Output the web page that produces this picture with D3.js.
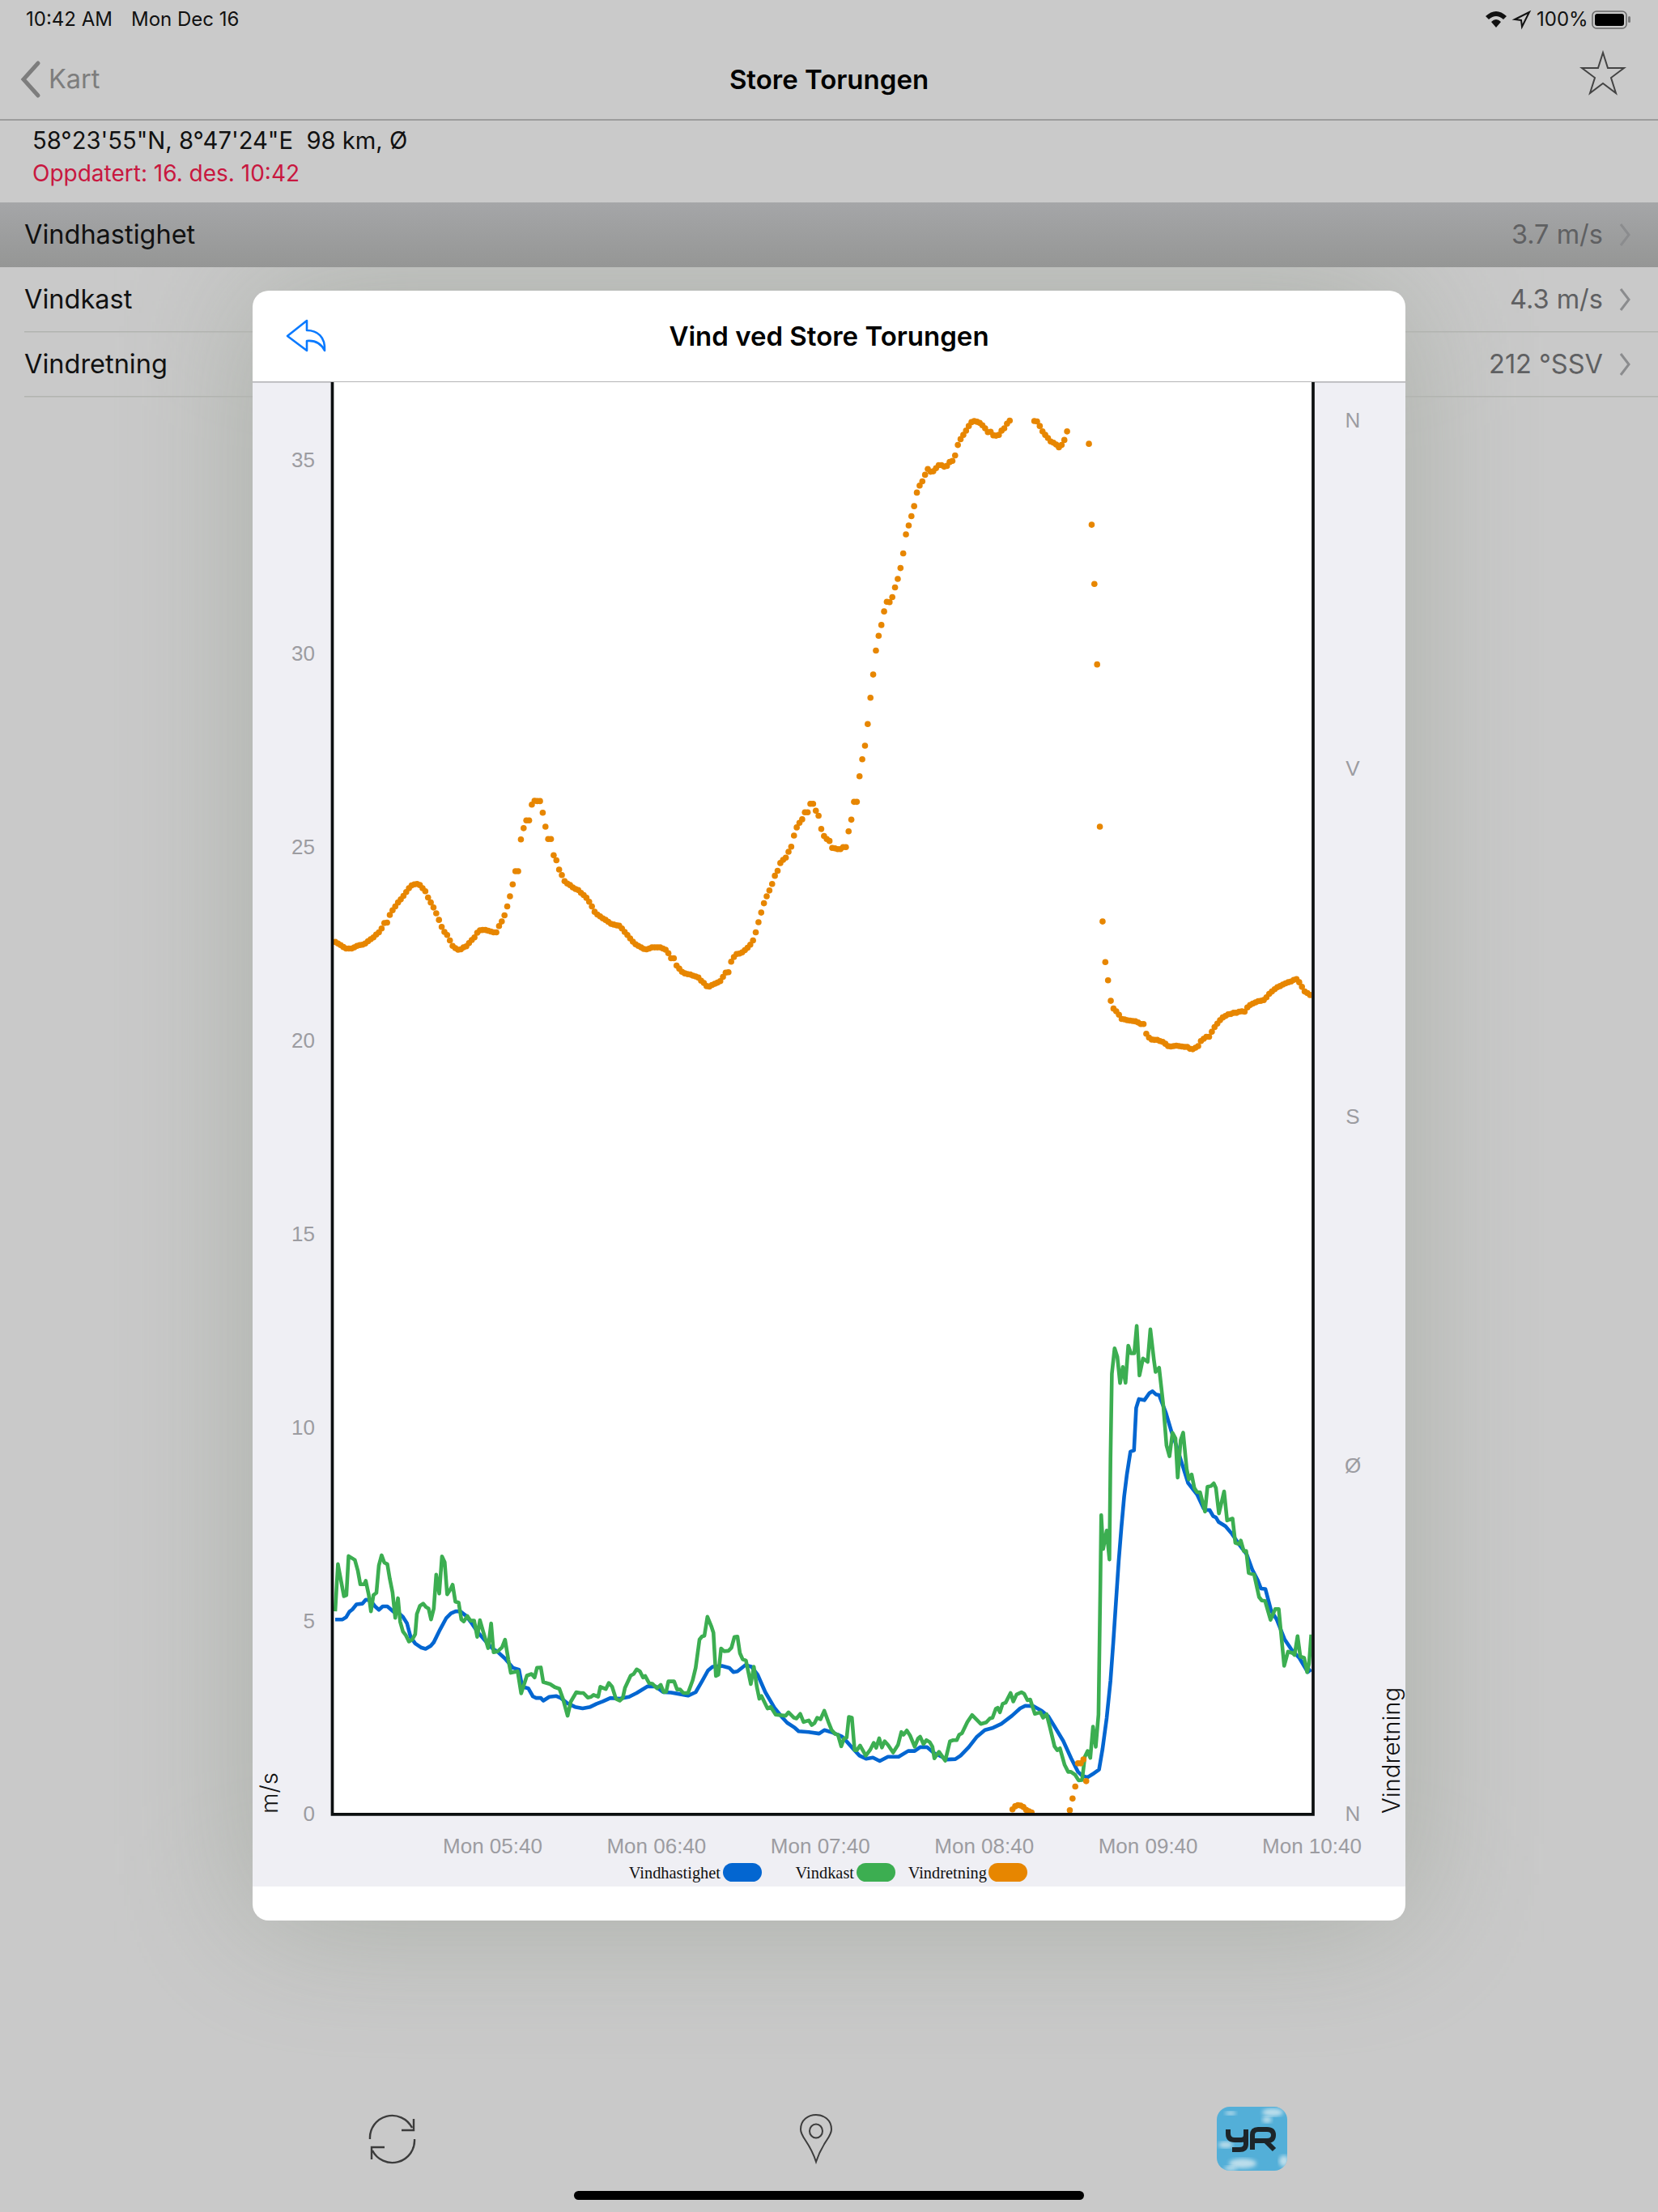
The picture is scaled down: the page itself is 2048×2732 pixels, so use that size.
<!DOCTYPE html>
<html lang="no">
<head>
<meta charset="utf-8">
<title>Vind ved Store Torungen</title>
<script src="https://d3js.org/d3.v7.min.js"></script>
<style>
  html, body { margin: 0; padding: 0; background: #c9c9c9; }
  svg { display: block; font-family: Inter, "Noto Sans", sans-serif; }
  .tick text { fill: #9c9ca1; font-size: 26px; font-weight: 300; }
</style>
</head>
<body>
<svg id="screen" width="2048" height="2732" viewBox="0 0 2048 2732"></svg>
<script>
// Wind observations, one direction reading per minute from the first sample onward.
const firstSample = new Date(2019, 11, 16, 4, 42, 30);

const directionDegrees = [
  225.2,224.8,224.4,223.9,223.5,223.5,223.5,223.8,224.2,224.4,
  224.5,224.8,225.4,225.9,226.4,227.1,227.7,228.7,230.1,230.2,
  232.2,233.4,234.4,235.4,236.2,237.1,238.1,239.1,239.8,240.1,
  240.2,239.9,239.1,238.3,236.7,235.4,234.1,232.6,230.9,229.1,
  227.8,227.0,225.6,224.2,223.6,223.2,223.3,223.8,224.1,224.9,
  225.7,226.4,227.6,228.2,228.3,228.3,228.1,227.9,227.7,227.7,
  229.3,230.5,232.1,234.4,237.0,240.1,243.5,243.5,251.7,254.6,
  256.6,256.6,260.7,261.7,261.6,261.6,258.6,255.0,251.8,251.8,
  247.6,246.3,243.9,242.5,240.9,240.3,239.9,239.3,238.9,238.6,
  237.9,237.3,236.6,235.6,234.4,233.0,232.3,231.8,231.3,230.9,
  230.4,229.9,229.7,229.5,229.4,228.7,227.8,227.0,226.1,225.3,
  224.6,224.2,223.8,223.4,223.3,223.5,223.8,223.8,223.8,223.8,
  223.5,223.2,222.3,221.0,221.0,219.1,218.3,217.5,217.1,216.9,
  216.8,216.5,216.3,216.0,215.2,214.6,213.8,213.7,214.1,214.4,
  214.7,215.1,216.2,217.3,217.4,220.1,221.3,222.1,222.2,222.5,
  223.1,223.7,224.5,225.6,227.7,230.3,232.8,235.2,237.0,238.5,
  240.2,242.3,243.6,245.6,246.4,247.0,248.5,249.8,252.7,254.8,
  256.0,256.9,258.7,258.7,260.9,260.9,259.1,257.8,254.4,252.6,
  251.8,251.3,249.5,249.4,249.2,249.2,249.7,249.7,253.8,256.8,
  261.4,261.4,268.0,272.4,275.9,281.5,288.3,294.3,300.5,304.3,
  307.1,310.6,313.1,313.0,314.3,316.8,319.0,321.8,325.6,330.5,
  332.8,335.2,337.8,341.3,343.1,344.2,345.9,347.4,346.7,346.8,
  347.6,348.4,348.4,348.0,348.2,349.2,349.5,350.9,353.6,355.1,
  356.2,357.3,358.5,359.5,359.8,359.6,359.3,358.7,357.9,356.9,
  357.0,356.1,356.0,356.2,357.3,357.9,359.1,359.9,1.1,1.9,
  2.2,2.1,1.7,1.0,0.6,0.3,359.8,359.7,358.5,357.1,
  356.2,355.4,354.5,354.2,353.7,353.0,353.6,354.9,357.1,0.9,
  3.9,7.0,13.0,13.0,14.0,8.4,353.9,333.0,317.7,296.9,
  255.0,230.5,220.0,215.3,210.0,208.0,207.3,206.4,205.3,205.2,
  205.0,204.9,204.8,204.7,204.4,204.0,204.0,201.5,200.5,200.0,
  199.9,199.9,199.6,199.4,198.9,198.3,198.2,198.3,198.4,198.3,
  198.2,198.1,198.1,197.6,197.5,197.9,198.3,199.6,200.2,200.7,
  200.7,202.0,203.2,204.1,205.0,205.7,206.1,206.5,206.6,206.9,
  206.9,207.2,207.3,207.2,208.3,208.9,209.3,209.6,209.9,210.0,
  210.2,210.9,211.8,212.4,213.0,213.5,213.8,214.2,214.5,214.8,
  215.0,215.4,215.6,214.8,213.6,212.4,212.0,211.5
];

const speedMinutes = [
  0,2.7,4,5.2,6.3,7.8,10,11.2,12.9,14.6,16,17.4,19.1,21.4,23.1,24.8,26.3,27.6,29.3,31.6,
  33.1,35,36.1,38.4,40.7,42.4,44.1,45.8,48,49.7,52,55.4,57.7,59.4,62.2,65.1,67.3,68.5,70.7,72.4,
  73.6,75.3,76.2,78.4,81,82.6,84.9,87.8,90.6,93.4,95.7,98,100.8,104.2,107.6,110.4,112.7,114.4,117.3,120.1,
  123,126.3,129.2,132,134.3,136.5,138.2,141.6,144.3,145.8,147.3,150.2,152.4,154.7,157.5,161,163.8,165.5,168.3,169.7,
  173.4,177.2,179.1,181.6,184.1,185.6,187.5,190,192,194.4,196.9,199.4,202.4,206.3,209.8,212.2,214.2,216.7,219.2,222.1,
  224.1,227.1,229,232,235,237.9,240.9,243.9,247.8,250.8,252.7,255.7,258.7,261.2,263.6,266.6,269.5,272,273.5,275.5,
  277.3,279.7,281,282.5,283.9,284.9,285.9,286.9,287.9,288.9,289.9,291.2,292.5,293.3,294.3,296.3,298.1,299.3,300.5,301.7,
  304.2,306.2,308,310.1,312.3,315.6,318,319,320.2,321.5,322.5,323.5,326,328.4,330.9,333.8,335.8,337.8,339,340.6,
  342.7,344.7,347.7,350.2,353.1,356.1,357.4
];
const speedValues = [
  5.02,5.02,5.08,5.22,5.28,5.41,5.43,5.53,5.51,5.36,5.27,5.36,5.36,5.22,5.20,5.09,4.92,4.57,4.40,4.29,
  4.26,4.34,4.43,4.76,5.06,5.18,5.23,5.23,5.11,4.95,4.71,4.43,4.26,4.19,4.01,3.77,3.72,3.28,3.24,3.03,
  2.99,2.99,2.92,3.02,3.04,2.99,2.86,2.76,2.72,2.76,2.84,2.90,2.99,2.97,3.02,3.12,3.22,3.29,3.29,3.14,
  3.13,3.09,3.05,3.14,3.42,3.70,3.80,3.82,3.77,3.66,3.68,3.84,3.80,3.59,3.14,2.72,2.48,2.35,2.22,2.13,
  2.11,2.07,2.16,2.11,2.04,1.99,1.85,1.65,1.50,1.42,1.45,1.36,1.47,1.47,1.62,1.62,1.72,1.72,1.57,1.47,
  1.40,1.41,1.50,1.72,1.99,2.16,2.22,2.32,2.53,2.72,2.79,2.78,2.66,2.51,2.23,1.88,1.43,1.08,0.98,0.94,
  1.02,1.14,1.68,2.47,3.44,4.41,5.47,6.53,7.41,8.20,8.77,9.36,9.39,10.49,10.72,10.69,10.87,10.92,10.84,10.82,
  10.36,9.88,9.52,9.04,8.55,8.25,7.89,7.85,7.85,7.69,7.66,7.54,7.43,7.23,6.97,6.70,6.31,6.04,5.82,5.81,
  5.25,5.03,4.50,4.24,4.02,3.66,3.73
];

const gustMinutes = [
  0,1,3.2,4.1,4.9,7.2,8.3,9.2,10.6,11.2,12.3,13.1,14,15.1,16,17,18,19.1,20,21,
  22,23,23.8,24.8,25.8,27,28.2,29.3,29.9,31,32.2,33.3,34.2,35.1,36.1,37,38.1,39.1,40.1,41,
  42.1,43,44,45.2,46.2,47.1,48.4,49.5,50.9,52,53,54.3,56,57.1,58,59.4,61.1,62.2,63.4,64.3,
  66.8,68.1,70.2,71.9,73,73.9,75.3,76.2,78.7,80.4,82.1,83.4,85.1,86.3,88.3,89.8,90.9,92.5,93.7,94.6,
  96.3,97.1,99.1,100.2,101.4,102.8,104.2,105.3,106.1,108.2,109.3,110.4,111.6,112.7,113.5,115,116.1,117.8,119.2,120.3,
  121.2,122,124.1,125.2,126.3,127.5,129.2,130.9,132,133.4,134.3,135.2,136.3,137.7,138.5,139.4,140.3,141.3,142.4,144,
  145.1,146.2,147.3,148.2,149.2,150.4,152.2,153.3,154.4,155.3,156.1,158.3,159.5,161.3,164.9,166,168,168.9,170.3,171.5,
  173.4,174.5,175.5,176.5,177.7,179.1,180.6,181.8,183.1,184.1,185.3,186.3,187.3,188.1,189.2,190.2,191,192.2,194.3,195.9,
  197.2,198.1,199.2,200.2,201.2,202.4,204.3,206.1,207.3,208.1,209.3,210.5,212.2,213.4,214.2,215.4,216.5,217.7,218.7,219.4,
  221.1,222.1,223.4,225.1,226.3,227.6,228.5,229.5,231.5,233.2,236.4,238.4,239.7,240.7,241.9,242.6,243.4,244.4,245.5,247.3,
  248.3,249.5,251.3,252.3,253.5,254.5,256.2,258.2,259.2,260.5,261.6,263.4,264.4,265.4,267.1,268.4,269.4,271,272.2,273.5,
  274.5,275.5,276.5,277.5,278.5,279.5,280.2,280.5,281.2,282.5,283.5,283.9,284.4,285.4,286.4,287.4,288.4,289.4,290.4,291.4,
  292.6,293.5,294.5,295.8,297.5,298.5,299.8,300.4,301.7,303.2,304.4,305.5,306.6,307.7,308.5,309.6,310.5,311.8,312.6,313.6,
  314.6,315.6,316.7,318.5,319.4,320.7,321.7,322.5,323.6,325.5,326.6,328.6,329.6,330.9,331.6,332.7,333.6,334.5,336.5,338.3,
  339.3,340.5,342.5,344.2,345.5,347.5,348.9,350.6,351.3,352.4,353.4,354.8,355.9,356.6,357.4
];
const gustValues = [
  5.23,6.45,5.62,5.65,6.66,6.56,6.28,5.93,5.93,6.02,5.65,5.23,5.65,5.71,6.42,6.68,6.49,6.45,6.07,5.72,
  5.06,5.57,4.96,4.71,4.62,4.45,4.50,4.64,5.16,5.37,5.43,5.34,5.30,5.02,5.30,6.18,5.69,6.65,6.50,5.67,
  5.79,5.92,5.48,5.46,5.02,4.97,5.11,4.99,4.99,4.57,5.00,4.68,4.28,4.92,4.17,4.19,4.30,4.50,3.98,3.64,
  3.68,3.11,3.57,3.61,3.52,3.77,3.78,3.40,3.35,3.27,3.23,2.97,2.53,2.90,3.14,3.12,3.12,3.00,3.02,3.07,
  3.02,3.28,3.22,3.38,3.28,2.97,2.92,2.99,3.25,3.57,3.61,3.73,3.68,3.52,3.56,3.37,3.36,3.24,3.33,3.14,
  3.15,3.42,3.42,3.21,3.21,3.12,3.12,3.45,3.77,4.50,4.58,4.60,5.09,4.85,4.68,3.56,3.59,4.27,4.20,4.21,
  4.29,4.57,4.58,4.15,3.99,3.96,3.35,3.80,3.28,2.97,3.04,2.72,2.76,2.56,2.53,2.62,2.48,2.46,2.58,2.37,
  2.41,2.29,2.34,2.48,2.44,2.66,2.37,2.16,2.06,2.04,1.74,1.94,1.97,2.50,2.48,1.64,1.64,1.76,1.50,1.65,
  1.83,1.70,1.95,1.71,1.87,1.78,1.58,1.78,2.11,2.04,2.15,2.02,1.73,1.94,1.99,1.80,1.90,1.85,1.73,1.43,
  1.60,1.50,1.37,1.87,1.90,1.90,2.04,2.08,2.37,2.55,2.32,2.36,2.46,2.48,2.71,2.74,2.62,2.84,2.87,3.12,
  2.90,3.08,3.14,3.10,2.93,2.95,2.58,2.62,2.48,2.57,2.27,1.74,1.64,1.69,1.26,1.08,1.08,1.00,0.86,0.87,
  1.47,1.62,1.44,2.25,1.73,2.56,6.00,7.72,6.84,7.32,6.57,9.17,11.37,12.03,11.81,11.13,11.55,11.14,12.10,11.90,
  11.90,12.61,11.33,11.77,11.68,12.52,11.73,11.42,11.53,10.58,9.52,9.24,9.85,9.70,8.69,9.66,9.85,8.91,8.64,8.77,
  8.42,8.31,8.31,7.81,8.45,8.47,8.54,8.42,7.76,8.33,7.58,7.63,7.00,6.97,7.06,6.79,6.79,6.22,6.18,5.60,
  5.51,5.50,5.01,5.29,5.29,3.82,4.19,4.15,4.10,4.59,4.06,4.03,3.66,3.88,4.63
];

const speedTicks = [0, 5, 10, 15, 20, 25, 30, 35];
const compassTicks = [0, 90, 180, 270, 360];
const compassLabels = ["N", "Ø", "S", "V", "N"];
const timeTicks = [5, 6, 7, 8, 9, 10].map(h => new Date(2019, 11, 16, h, 40));
const legendLabels = ["Vindhastighet", "Vindkast", "Vindretning"];
const rowLabels = ["Vindhastighet", "Vindkast", "Vindretning"];
const rowValues = ["3.7 m/s", "4.3 m/s", "212 °SSV"];

const colors = { speed: "#0366d1", gust: "#3cae51", direction: "#e78600" };

const svg = d3.select("#screen");
const defs = svg.append("defs");
defs.append("filter").attr("id", "modalShadow")
  .attr("x", "-40%").attr("y", "-30%").attr("width", "180%").attr("height", "160%")
  .append("feGaussianBlur").attr("stdDeviation", 85);
defs.append("filter").attr("id", "cloudBlur")
  .append("feGaussianBlur").attr("stdDeviation", 2.5);
defs.append("clipPath").attr("id", "plotClip").append("rect")
  .attr("x", 412).attr("y", 472).attr("width", 1208).attr("height", 1767);
defs.append("clipPath").attr("id", "iconClip").append("rect")
  .attr("x", 1503).attr("y", 2602).attr("width", 87).attr("height", 79).attr("rx", 16);
const rowShade = defs.append("linearGradient").attr("id", "rowShade")
  .attr("x1", 0).attr("x2", 0).attr("y1", 0).attr("y2", 1);
rowShade.append("stop").attr("offset", 0).attr("stop-color", "#a5a6a8");
rowShade.append("stop").attr("offset", 1).attr("stop-color", "#959695");

/* ---------- dimmed app screen behind the dialog ---------- */
const uiText = (x, y, str, size, fill, opts = {}) =>
  svg.append("text").attr("x", x).attr("y", y).attr("dy", "0.35em")
    .attr("font-size", size).attr("fill", fill)
    .attr("font-weight", opts.weight || 400)
    .attr("text-anchor", opts.anchor || "start").text(str);

svg.append("rect").attr("width", 2048).attr("height", 2732).attr("fill", "#c9c9c9");
svg.append("rect").attr("x", 312).attr("y", 359).attr("width", 1424).attr("height", 2013)
  .attr("fill", "#a6aba3").attr("opacity", 0.9).attr("filter", "url(#modalShadow)");
svg.append("rect").attr("y", 0).attr("width", 2048).attr("height", 250).attr("fill", "#cacaca");
svg.append("rect").attr("y", 147).attr("width", 2048).attr("height", 2).attr("fill", "#9c9c9c");
svg.append("rect").attr("y", 250).attr("width", 2048).attr("height", 80).attr("fill", "url(#rowShade)");
[409, 489].forEach(y => svg.append("rect").attr("x", 30).attr("y", y)
  .attr("width", 2018).attr("height", 1.5).attr("fill", "#b2b4b0"));

uiText(32, 24, "10:42 AM", 24, "#111");
uiText(162, 24, "Mon Dec 16", 24, "#111");
uiText(1898, 24, "100%", 24, "#111");
svg.append("rect").attr("x", 1967).attr("y", 14).attr("width", 42).attr("height", 21).attr("rx", 5)
  .attr("fill", "none").attr("stroke", "#666").attr("stroke-width", 1.5);
svg.append("rect").attr("x", 1970).attr("y", 17).attr("width", 36).attr("height", 15).attr("rx", 3).attr("fill", "#000");
svg.append("rect").attr("x", 2011).attr("y", 20).attr("width", 3).attr("height", 8).attr("rx", 1.5).attr("fill", "#777");
svg.append("path").attr("d", "M1835 20 Q1848 8 1861 20 L1857 24 Q1848 16 1839 24 Z M1842 27 Q1848 21 1854 27 L1848 34 Z").attr("fill", "#111");
svg.append("path").attr("d", "M1889 15 L1871 24 L1879 25 L1880 33 Z").attr("fill", "none").attr("stroke", "#111").attr("stroke-width", 2);

svg.append("path").attr("d", "M47 78 L29 98 L47 118").attr("fill", "none")
  .attr("stroke", "#7d7d7d").attr("stroke-width", 5).attr("stroke-linecap", "round");
uiText(60, 98, "Kart", 32.5, "#7d7d7d");
uiText(1024, 98, "Store Torungen", 33, "#000", { anchor: "middle", weight: 600 });
svg.append("path").attr("d", "M1980 65 L1986 84 L2006 84 L1990 96 L1996 115 L1980 103 L1964 115 L1970 96 L1954 84 L1974 84 Z")
  .attr("fill", "none").attr("stroke", "#444").attr("stroke-width", 2);

uiText(40, 174, "58°23'55\"N, 8°47'24\"E\u00a0\u00a098 km, Ø", 29.2, "#111");
uiText(40, 214, "Oppdatert: 16. des. 10:42", 28, "#c8173f");

rowLabels.forEach((label, i) => {
  const y = 290 + i * 80;
  uiText(30, y, label, 32.5, "#111");
  uiText(1980, y, rowValues[i], 32.5, "#5f6062", { anchor: "end" });
  svg.append("path").attr("d", `M2002 ${y - 13} L2012 ${y} L2002 ${y + 13}`)
    .attr("fill", "none").attr("stroke", "#8b8c8e").attr("stroke-width", 3);
});

/* ---------- toolbar ---------- */
svg.append("path")
  .attr("d", "M457 2642 A27.5 27.5 0 0 1 509 2628 M511 2617 V2631 H496 M512 2642 A27.5 27.5 0 0 1 460 2656 M459 2667 V2652 H475")
  .attr("fill", "none").attr("stroke", "#3c3c3c").attr("stroke-width", 2.4);
svg.append("path")
  .attr("d", "M1008 2670 C1000 2645 989 2640 989 2630 C989 2606 1027 2606 1027 2630 C1027 2640 1016 2645 1008 2670 Z")
  .attr("fill", "none").attr("stroke", "#3c3c3c").attr("stroke-width", 2);
svg.append("ellipse").attr("cx", 1008).attr("cy", 2632).attr("rx", 8).attr("ry", 8.5)
  .attr("fill", "none").attr("stroke", "#3c3c3c").attr("stroke-width", 2);

// Weather-service app badge: sky tile, soft clouds and the YR mark
const badge = svg.append("g").attr("clip-path", "url(#iconClip)");
badge.append("rect").attr("x", 1503).attr("y", 2602).attr("width", 87).attr("height", 79).attr("fill", "#53afd8");
[[1572, 2609, 13, 5], [1565, 2618, 6, 4], [1520, 2610, 7, 2.5], [1514, 2649, 9, 4],
 [1535, 2672, 17, 6], [1520, 2678, 8, 3], [1586, 2669, 6, 7]].forEach(c =>
  badge.append("ellipse").attr("cx", c[0]).attr("cy", c[1]).attr("rx", c[2]).attr("ry", c[3])
    .attr("fill", "#cfe6ef").attr("opacity", 0.85).attr("filter", "url(#cloudBlur)"));
svg.append("path")
  .attr("d", "M1517 2630 V2635 Q1517 2643 1525 2643 H1533 Q1539 2643 1539 2637 V2630 M1539 2637 V2648 Q1539 2655 1531 2655 H1522 M1547 2655 V2637 Q1547 2630 1554 2630 H1565 Q1573 2630 1573 2637 Q1573 2644 1565 2644 H1549 M1563 2644 L1574 2655")
  .attr("fill", "none").attr("stroke", "#1d2529").attr("stroke-width", 6).attr("stroke-linejoin", "round");
svg.append("rect").attr("x", 709).attr("y", 2706).attr("width", 630).attr("height", 11).attr("rx", 5.5).attr("fill", "#000");

/* ---------- dialog ---------- */
svg.append("rect").attr("x", 312).attr("y", 359).attr("width", 1424).attr("height", 2013).attr("rx", 20).attr("fill", "#fff");
svg.append("rect").attr("x", 312).attr("y", 472).attr("width", 1424).attr("height", 1858).attr("fill", "#efeff4");
svg.append("rect").attr("x", 312).attr("y", 471).attr("width", 1424).attr("height", 1.6).attr("fill", "#b4b4b6");
svg.append("rect").attr("x", 412).attr("y", 472).attr("width", 1208).attr("height", 1767).attr("fill", "#fff");
uiText(1024, 415, "Vind ved Store Torungen", 33, "#000", { anchor: "middle", weight: 600 });
svg.append("path")
  .attr("d", "M379 396 L355 415 L379 433 L379 421 C390 420 397 425 401 433 C402 416 392 408 379 408 Z")
  .attr("fill", "none").attr("stroke", "#0a7aff").attr("stroke-width", 2.6).attr("stroke-linejoin", "round");

/* ---------- scales ---------- */
const x = d3.scaleTime().domain([timeTicks[0], timeTicks[5]]).range([608, 1620]);
const ySpeed = d3.scaleLinear().domain([0, 35]).range([2240, 568]);
const yDirection = d3.scaleLinear().domain([0, 360]).range([2240, 519]);
const minuteToTime = m => new Date(+firstSample + m * 60000);

/* ---------- series ---------- */
const plot = svg.append("g").attr("clip-path", "url(#plotClip)");
const speedLine = d3.line().x((m) => x(minuteToTime(m)))
  .y((m, i) => ySpeed(speedValues[i])).curve(d3.curveLinear);
const gustLine = d3.line().x((m) => x(minuteToTime(m)))
  .y((m, i) => ySpeed(gustValues[i])).curve(d3.curveLinear);

plot.append("path").attr("d", speedLine(speedMinutes)).attr("fill", "none")
  .attr("stroke", colors.speed).attr("stroke-width", 4.6).attr("stroke-linejoin", "round");
plot.append("path").attr("d", gustLine(gustMinutes)).attr("fill", "none")
  .attr("stroke", colors.gust).attr("stroke-width", 4.6).attr("stroke-linejoin", "round");
plot.selectAll("circle").data(directionDegrees).join("circle")
  .attr("cx", (d, i) => x(minuteToTime(i)))
  .attr("cy", d => yDirection(d))
  .attr("r", 3.8)
  .attr("fill", colors.direction);

/* ---------- axes ---------- */
svg.append("g").attr("transform", "translate(411,0.6)")
  .call(d3.axisLeft(ySpeed).tickValues(speedTicks).tickSize(0).tickPadding(22))
  .call(g => g.select(".domain").remove());
svg.append("g").attr("transform", "translate(1622,0)")
  .call(d3.axisRight(yDirection).tickValues(compassTicks).tickSize(0).tickPadding(49)
    .tickFormat((d, i) => compassLabels[i]))
  .call(g => g.select(".domain").remove())
  .selectAll("text").attr("text-anchor", "middle");
svg.append("g").attr("transform", "translate(0,2240)")
  .call(d3.axisBottom(x).tickValues(timeTicks).tickSize(0).tickPadding(31)
    .tickFormat(d3.timeFormat("%a %H:%M")))
  .call(g => g.select(".domain").remove());

// Frame around the plotting area: left, bottom, right
svg.append("path").attr("d", "M410.5 472 V2240.8 H1622 V472")
  .attr("fill", "none").attr("stroke", "#0c0f10").attr("stroke-width", 3.7);

const axisTitle = (tx, ty, str) => svg.append("text")
  .attr("transform", `translate(${tx},${ty}) rotate(-90)`)
  .attr("font-size", 29.3).attr("font-weight", 300).attr("fill", "#111").text(str);
axisTitle(343, 2240, "m/s");
axisTitle(1729, 2240, "Vindretning");

/* ---------- legend ---------- */
const legendItems = [
  { label: legendLabels[0], end: 890, swatch: 893, color: colors.speed },
  { label: legendLabels[1], end: 1055, swatch: 1058, color: colors.gust },
  { label: legendLabels[2], end: 1219, swatch: 1221, color: colors.direction }
];
const legend = svg.append("g").selectAll("g").data(legendItems).join("g");
legend.append("text").attr("x", d => d.end).attr("y", 2313).attr("dy", "0.33em")
  .attr("text-anchor", "end").attr("font-family", "'Liberation Serif', serif")
  .attr("font-size", 20.4).attr("fill", "#111").text(d => d.label);
legend.append("rect").attr("x", d => d.swatch).attr("y", 2301)
  .attr("width", 48).attr("height", 23).attr("rx", 11.5).attr("fill", d => d.color);
</script>
</body>
</html>
